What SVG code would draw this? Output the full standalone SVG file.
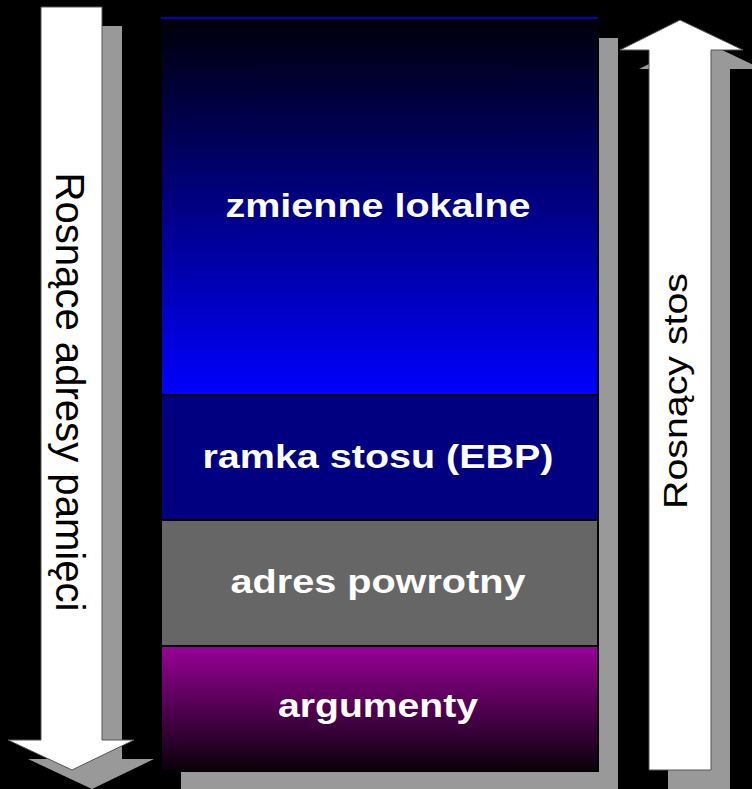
<svg xmlns="http://www.w3.org/2000/svg" width="752" height="789" viewBox="0 0 752 789">
  <defs>
    <linearGradient id="gTop" x1="0" y1="0" x2="0" y2="1">
      <stop offset="0" stop-color="#000008"/>
      <stop offset="1" stop-color="#0000ff"/>
    </linearGradient>
    <linearGradient id="gArg" x1="0" y1="0" x2="0" y2="1">
      <stop offset="0" stop-color="#990099"/>
      <stop offset="1" stop-color="#0a000a"/>
    </linearGradient>
  </defs>
  <style>
    .shadow { fill: #999999; }
    .arrow { fill: #ffffff; stroke: #555555; stroke-width: 1; }
    .box { stroke: #000000; stroke-width: 2; }
    .lbl { font-family: "Liberation Sans", Arial, sans-serif; font-weight: bold; font-size: 34px; fill: #ffffff; text-anchor: middle; }
    .side { font-family: "Liberation Sans", Arial, sans-serif; fill: #000000; text-anchor: middle; }
  </style>
  <rect x="0" y="0" width="752" height="789" fill="#000000"/>

  <g id="arrow-left">
    <polygon class="shadow" transform="translate(20,19)" points="41,7 102,7 102,740 134,740 72,770 8,740 41,740"/>
    <polygon class="arrow" points="41,7 102,7 102,740 134,740 72,770 8,740 41,740"/>
    <text class="side" font-size="40" textLength="439" lengthAdjust="spacingAndGlyphs" transform="translate(56,392) rotate(90)">Rosnące adresy pamięci</text>
  </g>

  <g id="arrow-right">
    <polygon class="shadow" transform="translate(19,19)" points="649,770 711,770 711,50 743,50 680,20 620,50 649,50"/>
    <polygon class="arrow" points="649,770 711,770 711,50 743,50 680,20 620,50 649,50"/>
    <text class="side" font-size="34" textLength="236" lengthAdjust="spacingAndGlyphs" transform="translate(687,391) rotate(-90)">Rosnący stos</text>
  </g>

  <g id="stack">
    <rect class="shadow" x="181" y="38" width="437" height="752"/>
    <g id="zmienne-lokalne">
      <rect class="box" x="161" y="18" width="437" height="377" fill="url(#gTop)"/>
      <line x1="161" y1="18" x2="598" y2="18" stroke="#0000cc" stroke-width="2"/>
      <text class="lbl" x="378" y="217" textLength="305" lengthAdjust="spacingAndGlyphs">zmienne lokalne</text>
    </g>
    <g id="ramka-stosu">
      <rect class="box" x="161" y="395" width="437" height="125" fill="#000080"/>
      <text class="lbl" x="378" y="468" textLength="351" lengthAdjust="spacingAndGlyphs">ramka stosu (EBP)</text>
    </g>
    <g id="adres-powrotny">
      <rect class="box" x="161" y="520" width="437" height="126" fill="#666666"/>
      <text class="lbl" x="378" y="593" textLength="295" lengthAdjust="spacingAndGlyphs">adres powrotny</text>
    </g>
    <g id="argumenty">
      <rect class="box" x="161" y="646" width="437" height="125" fill="url(#gArg)"/>
      <text class="lbl" x="378" y="717" textLength="200" lengthAdjust="spacingAndGlyphs">argumenty</text>
    </g>
  </g>
</svg>
